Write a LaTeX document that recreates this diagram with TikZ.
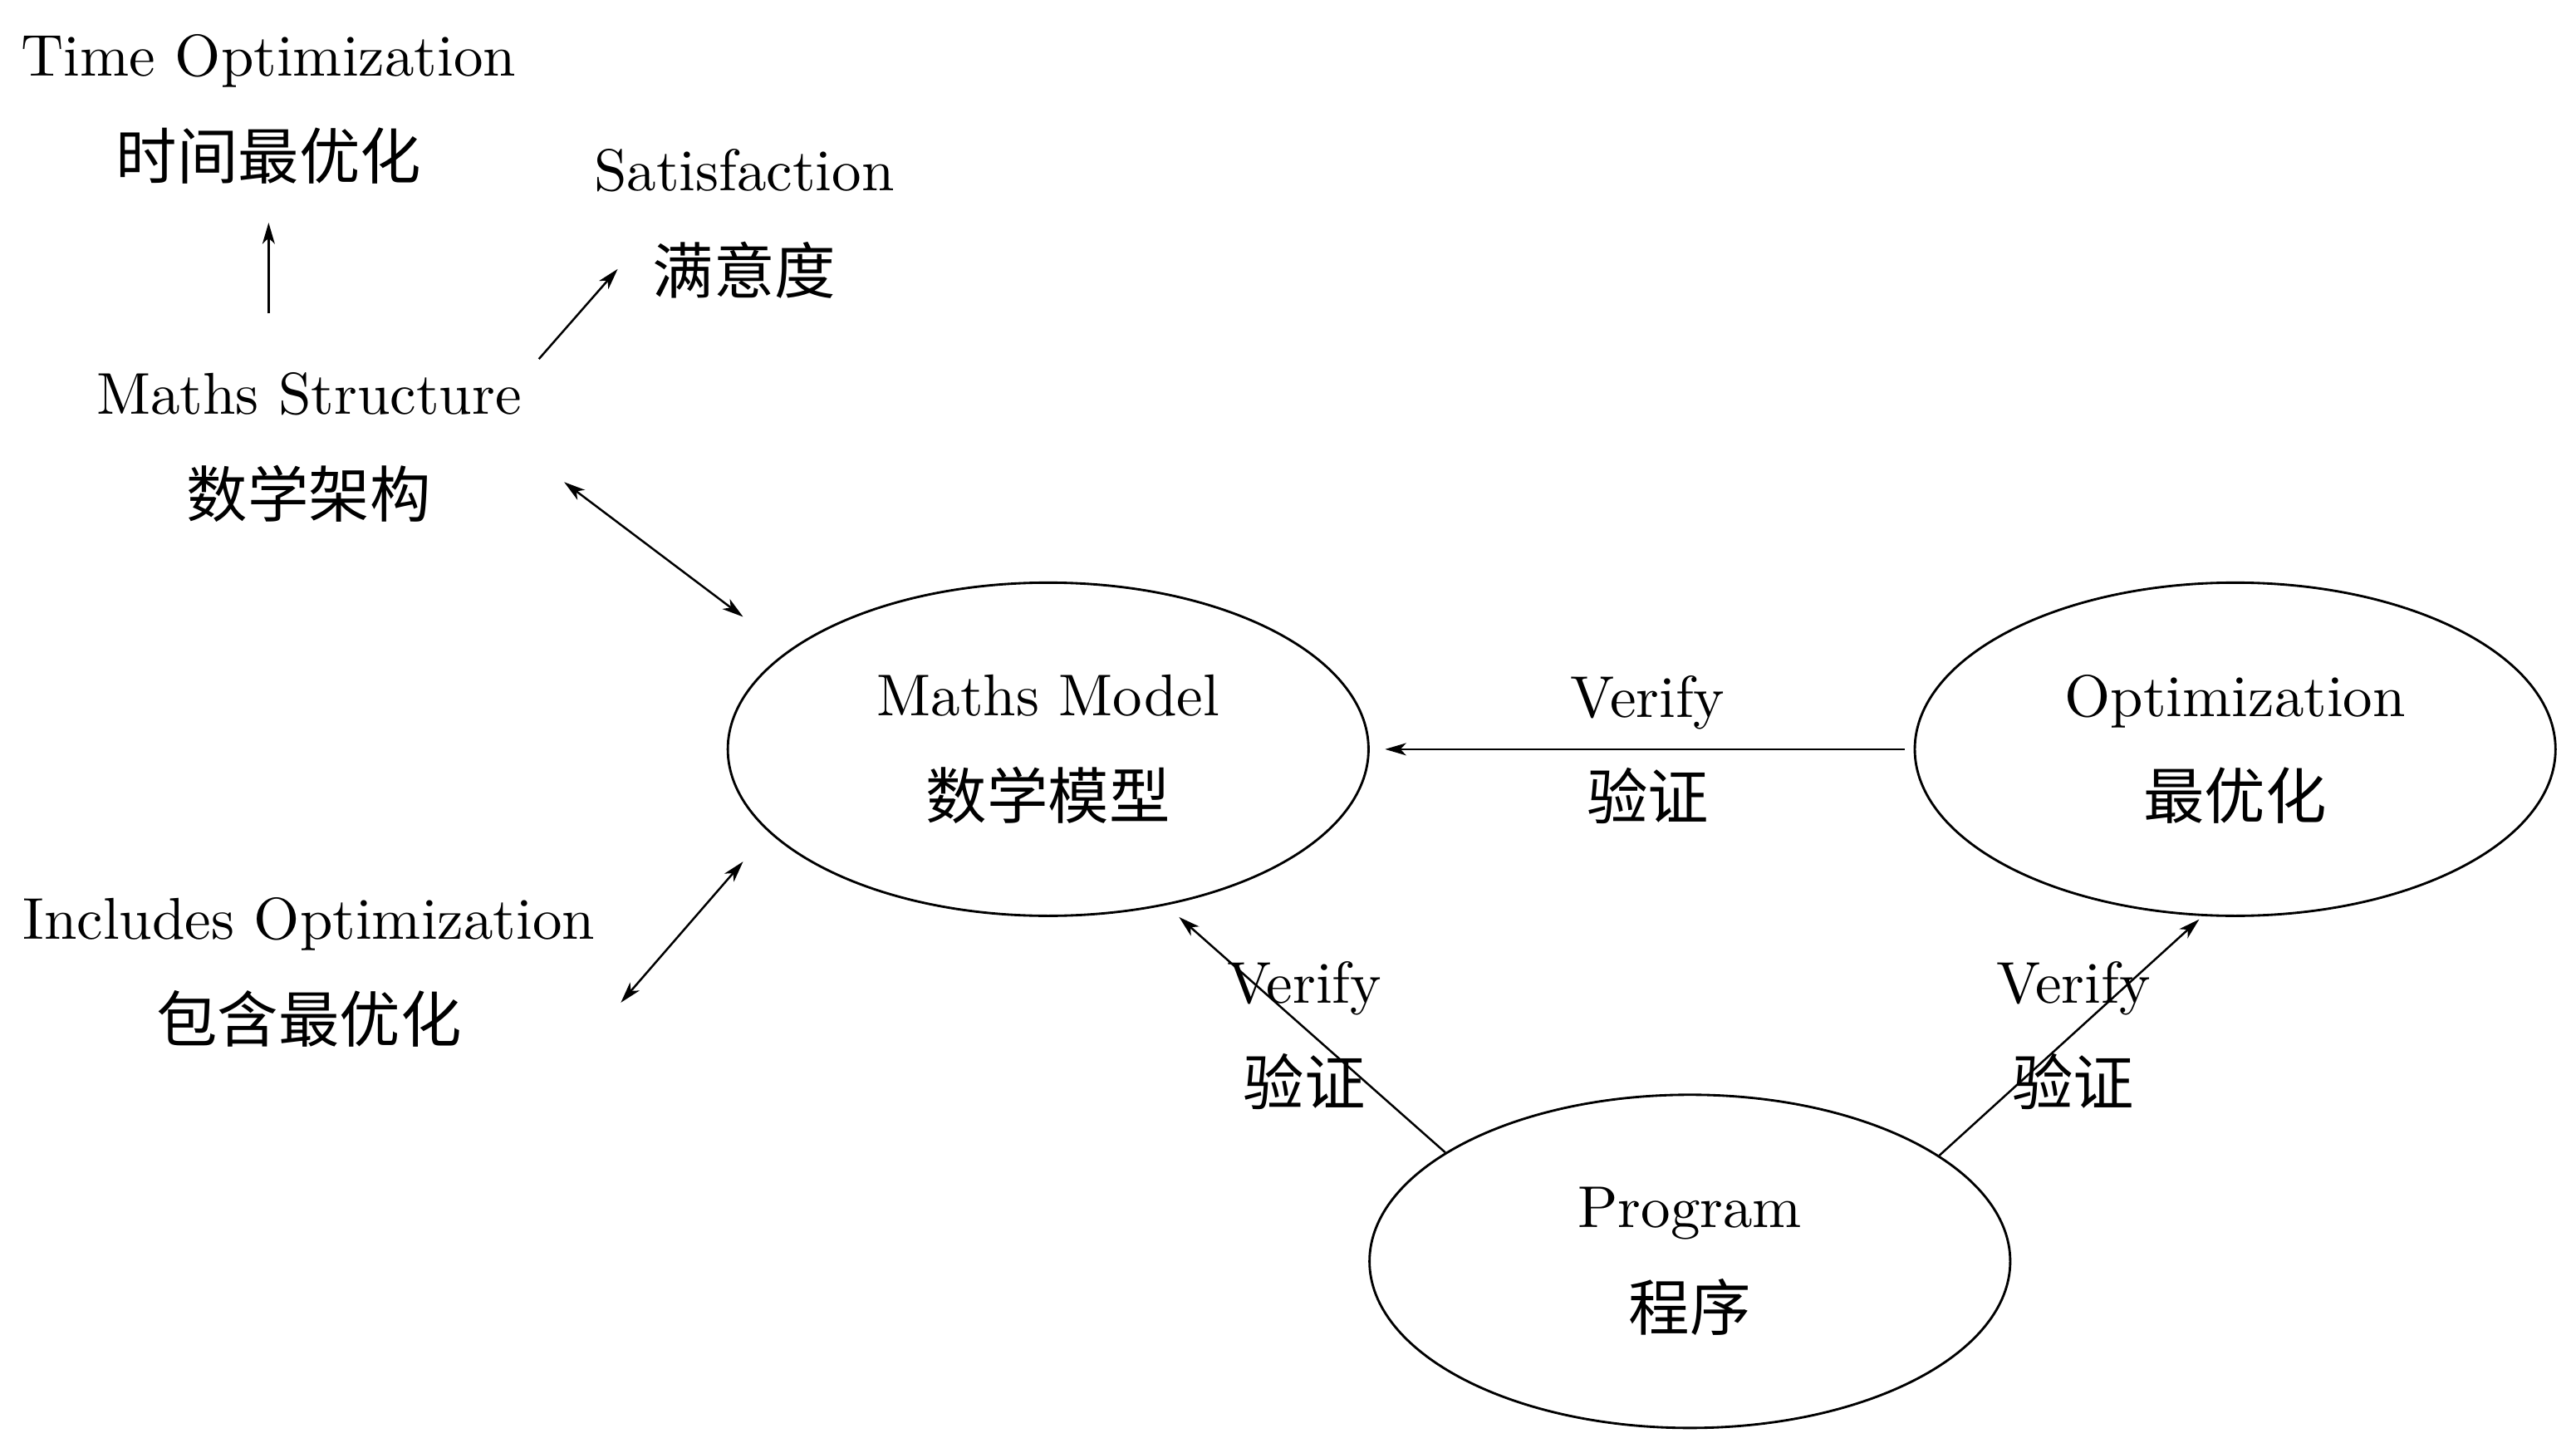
\documentclass[tikz,border=0pt]{standalone}
\usepackage{fontspec}
\newfontfamily\cjk[Scale=1.035]{Noto Sans CJK SC}
\usetikzlibrary{arrows.meta,shapes.geometric}
\begin{document}
\begin{tikzpicture}[x=0.2786pt,y=-0.2786pt,
  txt/.style={align=center,inner sep=0pt,font=\fontsize{10pt}{17.4pt}\selectfont},
  ell/.style={ellipse,draw,line width=0.4pt,minimum width=108.65pt,minimum height=56.5pt,inner sep=0pt,
    align=center,font=\fontsize{10pt}{17.4pt}\selectfont},
  arr/.style={line width=0.35pt,-{Stealth[length=3.6pt,width=2.1pt,inset=1pt]}},
  darr/.style={line width=0.35pt,{Stealth[length=3.6pt,width=2.1pt,inset=1pt]}-{Stealth[length=3.6pt,width=2.1pt,inset=1pt]}}]
\useasboundingbox (0,0) rectangle (1568,881);
% text nodes
\node[txt] (to)  at (163.5,66.3)  {Time Optimization\\{\cjk 时间最优化}};
\node[txt] (sat) at (453,136.3)   {Satisfaction\\{\cjk 满意度}};
\node[txt] (ms)  at (188,272.4)   {Maths Structure\\{\cjk 数学架构}};
\node[txt] (inc) at (188,591.9)   {Includes Optimization\\{\cjk 包含最优化}};
% ellipses
\node[ell] (mm)   at (638,456)     {Maths Model\\{\cjk 数学模型}};
\node[ell] (opt)  at (1360.5,456)  {Optimization\\{\cjk 最优化}};
\node[ell] (prog) at (1028.6,767.7){Program\\{\cjk 程序}};
% edge labels
\node[txt] (v1) at (1003,456.4) {Verify\\{\cjk 验证}};
\node[txt] (v2) at (794,630.2)  {Verify\\{\cjk 验证}};
\node[txt] (v3) at (1262,630.2) {Verify\\{\cjk 验证}};
% connectors
\draw[arr]  ([shift={(-24.5,-81.6)}]ms.center) -- ([shift={(0,69.2)}]to.center);
\draw[arr]  ([shift={(140,-53.9)}]ms.center) -- ([shift={(-77,27.4)}]sat.center);
\draw[darr] ([shift={(155.4,21)}]ms.center) -- ([shift={(-185.7,-80.6)}]mm.center);
\draw[darr] ([shift={(189.9,18.3)}]inc.center) -- ([shift={(-185.7,68.4)}]mm.center);
\draw[arr, shorten <=1.5pt, shorten >=2.6pt] (opt.west) -- (mm.east);
\draw[arr, shorten >=3pt] (prog.156.5) -- (mm.-53.25);
\draw[arr, shorten >=0.8pt] (prog.23.8) -- (opt.-101.96);
\end{tikzpicture}
\end{document}
